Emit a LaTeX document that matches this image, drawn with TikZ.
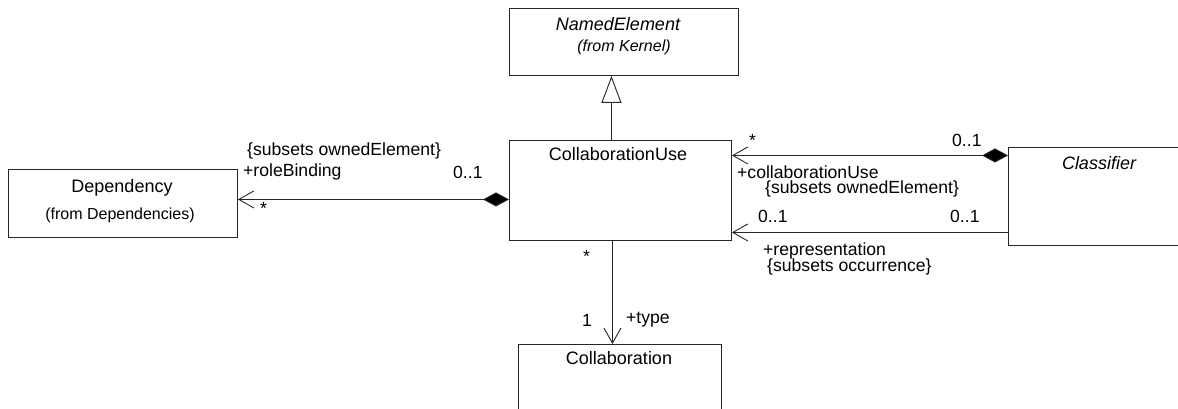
\documentclass[tikz,border=0pt]{standalone}
\usepackage{fontspec}
\setmainfont{Liberation Sans}
\usetikzlibrary{arrows.meta}
\begin{document}
\begin{tikzpicture}[x=1pt,y=-1pt,
  box/.style={draw=black!85, line width=0.9pt, inner sep=0pt, anchor=north west, fill=white},
  nametxt/.style={font=\fontsize{18}{20}\selectfont, inner sep=0pt},
  fromtxt/.style={font=\fontsize{16}{18}\selectfont, inner sep=0pt},
  lbl/.style={font=\fontsize{17.6}{20}\selectfont, inner sep=0pt, anchor=west},
  ln/.style={draw=black!85, line width=0.9pt},
  navto/.style={-{Straight Barb[length=15pt,width=17pt,line width=0.9pt]}},
  compnav/.style={{Diamond[length=26pt,width=14pt,fill=black,line width=0.9pt]}-{Straight Barb[length=15pt,width=17pt,line width=0.9pt]}},
  gen/.style={-{Triangle[open,length=27pt,width=20pt,fill=white,line width=0.9pt]}}
]
\useasboundingbox (0,0) rectangle (1178,409);
\begin{scope}
\clip (0,0) rectangle (1178,409);
% boxes
\node[box, minimum width=229pt, minimum height=67pt] (ne) at (509,8) {};
\node[box, minimum width=222pt, minimum height=100pt] (cu) at (509,140) {};
\node[box, minimum width=229pt, minimum height=68pt] (dep) at (8,169) {};
\node[box, minimum width=200pt, minimum height=98pt] (cls) at (1008,147) {};
\node[box, minimum width=203pt, minimum height=100pt] (col) at (518,344) {};
\end{scope}
% box texts
\node[nametxt, font=\fontsize{18}{20}\selectfont\itshape] (netitle) at (618,24) {NamedElement};
\node[fromtxt, font=\fontsize{16}{18}\selectfont\itshape] (nefrom) at (624,47) {(from Kernel)};
\node[nametxt] (cutitle) at (618,154) {CollaborationUse};
\node[nametxt] (deptitle) at (122,188) {Dependency};
\node[fromtxt] (depfrom) at (120,215) {(from Dependencies)};
\node[nametxt, font=\fontsize{18}{20}\selectfont\itshape] (clstitle) at (1099,163) {Classifier};
\node[nametxt] (coltitle) at (619,358) {Collaboration};
% connectors
\draw[ln, gen] ([xshift=-9pt]cu.north) -- ([xshift=-9pt]cu.north |- ne.south);
\draw[ln, compnav] ([yshift=-9pt]cu.west) -- ([yshift=-9pt]cu.west -| dep.east);
\draw[ln, compnav] ([yshift=41pt]cls.west) -- ([yshift=41pt]cls.west -| cu.east);
\draw[ln, navto] ([yshift=-36pt]cls.west) -- ([yshift=-36pt]cls.west -| cu.east);
\draw[ln, navto] ([xshift=-8pt]cu.south) -- ([xshift=-8pt]cu.south |- col.north);
% labels
\node[lbl] (l1) at (247,151) {\{subsets ownedElement\}};
\node[lbl] (l2) at (243,172) {+roleBinding};
\node[lbl] (l3) at (453,172) {0..1};
\node[lbl] (l4) at (260,208) {*};
\node[lbl] (l5) at (749,140) {*};
\node[lbl] (l6) at (952,140) {0..1};
\node[lbl] (l7) at (737,172) {+collaborationUse};
\node[lbl] (l8) at (765,189) {\{subsets ownedElement\}};
\node[lbl] (l9) at (758,216) {0..1};
\node[lbl] (l10) at (950,216) {0..1};
\node[lbl] (l11) at (763,251) {+representation};
\node[lbl] (l12) at (767,267) {\{subsets occurrence\}};
\node[lbl] (l13) at (583,256) {*};
\node[lbl] (l14) at (582,320) {1};
\node[lbl] (l15) at (626,320) {+type};
\end{tikzpicture}
\end{document}
